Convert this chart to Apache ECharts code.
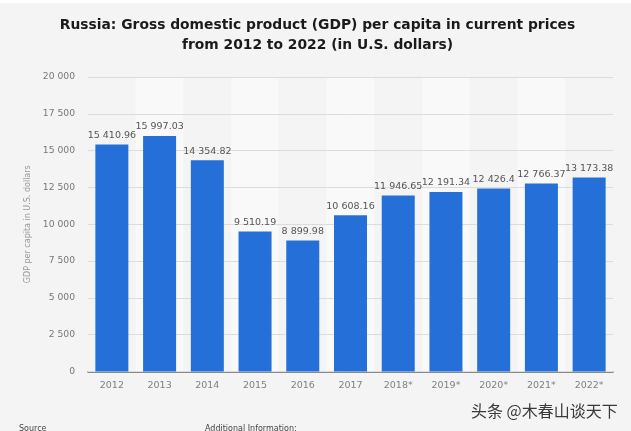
<![CDATA[<!DOCTYPE html>
<html><head><meta charset="utf-8">
<style>html,body{margin:0;padding:0;background:#fff}#c{width:631px;height:431px}</style>
<script src="https://cdn.jsdelivr.net/npm/echarts@6/dist/echarts.min.js"></script>
</head><body><div id="c"></div>
<script>
const categories=['2012','2013','2014','2015','2016','2017','2018*','2019*','2020*','2021*','2022*'];
const values=[15410.96,15997.03,14354.82,9510.19,8899.98,10608.16,11946.65,12191.34,12426.4,12766.37,13173.38];
const titleLines=['Russia: Gross domestic product (GDP) per capita in current prices','from 2012 to 2022 (in U.S. dollars)'];
const yName='GDP per capita in U.S. dollars';
const spaced=v=>{const s=String(v).split('.');return s[0].replace(/\B(?=(\d{3})+$)/g,' ')+(s[1]?'.'+s[1]:'');};
const chart=echarts.init(document.getElementById('c'),null,{renderer:'canvas'});
chart.setOption({
  animation:false,
  backgroundColor:'#fff',
  grid:{left:88,right:18,top:77,bottom:59.5},
  graphic:[
    {type:'rect',z:-10,silent:true,shape:{x:0,y:3,width:631,height:428},style:{fill:'#f4f4f4'}},
    {type:'text',left:471,top:403,style:{text:'头条 @木春山谈天下',font:'16px "Noto Sans CJK SC"',fill:'#3a3a3a'}},
    {type:'text',left:19,top:425,style:{text:'Source',font:'8px "DejaVu Sans"',fill:'#444'}},
    {type:'text',left:205,top:425,style:{text:'Additional Information:',font:'8px "DejaVu Sans"',fill:'#444'}},
    {type:'text',x:317.5,y:25,style:{text:titleLines[0],align:'center',verticalAlign:'middle',font:'bold 13.85px "DejaVu Sans"',fill:'#1a1a1a'}},
    {type:'text',x:317.5,y:45.5,style:{text:titleLines[1],align:'center',verticalAlign:'middle',font:'bold 13.85px "DejaVu Sans"',fill:'#1a1a1a'}}
  ],
  xAxis:{type:'category',data:categories,
    axisLine:{lineStyle:{color:'#666',width:1.5}},axisTick:{show:false},
    axisLabel:{color:'#808080',fontSize:9.5,fontFamily:'DejaVu Sans',margin:9.5,interval:0},
    splitArea:{show:true,interval:0,areaStyle:{color:['#f4f4f4','#f9f9f9']}}},
  yAxis:{type:'value',min:0,max:20000,interval:2500,z:3,
    name:yName,nameLocation:'middle',nameGap:47,nameRotate:90,
    nameTextStyle:{color:'#999',fontSize:8,fontFamily:'DejaVu Sans'},
    axisLine:{show:false},axisTick:{show:false},
    axisLabel:{color:'#777',fontSize:9.2,fontFamily:'DejaVu Sans',margin:13,formatter:v=>spaced(v)},
    splitLine:{show:true,lineStyle:{color:'#dcdcdc',width:1}}},
  series:[{type:'bar',data:values,barWidth:33,z:5,itemStyle:{color:'#2470d8'},
    label:{show:true,position:'top',distance:4,color:'#555',fontSize:9.5,fontFamily:'DejaVu Sans',formatter:p=>spaced(p.value)}}]
});
</script></body></html>]]>
